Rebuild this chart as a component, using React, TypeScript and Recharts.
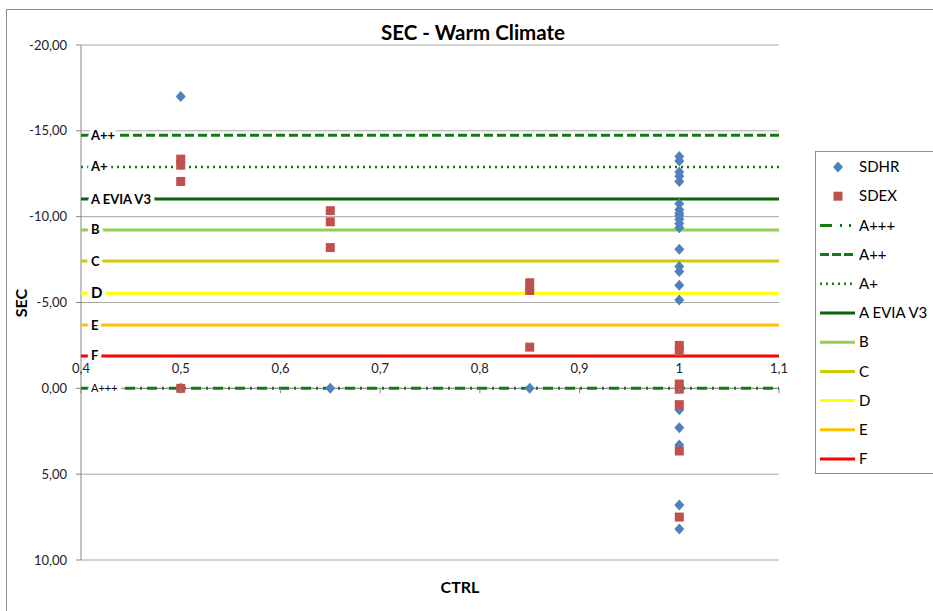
import React from "react";
import { ScatterChart, Scatter, XAxis, YAxis, CartesianGrid } from "recharts";

// SDHR points: CTRL value and SEC value
const sdhrCtrl = [0.5, 0.5, 0.65, 0.85, 0.85,
  1, 1, 1, 1, 1, 1, 1, 1, 1, 1, 1, 1, 1, 1, 1, 1, 1, 1, 1, 1, 1, 1, 1];
const sdhrSec = [-17.0, 0, 0, -5.75, 0,
  -13.5, -13.25, -12.6, -12.35, -12.05, -10.75, -10.4, -10.2, -10.05, -9.85, -9.6, -9.35,
  -8.1, -7.1, -6.8, -6.0, -5.15, 0, 1.25, 2.3, 3.3, 6.8, 8.2];

// SDEX points
const sdexCtrl = [0.5, 0.5, 0.5, 0.5, 0.65, 0.65, 0.65, 0.85, 0.85, 0.85, 1, 1, 1, 1, 1, 1, 1];
const sdexSec = [-13.35, -13.0, -12.05, 0, -10.35, -9.7, -8.2, -6.15, -5.7, -2.4,
  -2.5, -2.15, -0.25, 0.05, 0.95, 3.65, 7.5];

// class limits (horizontal lines)
const levelNames = ["A+++", "A++", "A+", "A EVIA V3", "B", "C", "D", "E", "F"];
const levelSec = [0, -14.75, -12.9, -11.03, -9.23, -7.42, -5.54, -3.69, -1.89];

const ctrlDomain = [0.4, 1.1];
const ctrlTicks = [0.4, 0.5, 0.6, 0.7, 0.8, 0.9, 1, 1.1];
const secDomain = [-20, 10];
const secTicks = [-20, -15, -10, -5, 0, 5, 10];

const W = 933;
const H = 611;
const PLOT_TOP = 45;
const PLOT_BOTTOM = 560;
const PLOT_LEFT = 81;
const PLOT_RIGHT = 779;
const X_AXIS_H = 30;
const ZERO_Y = PLOT_TOP + ((0 - secDomain[0]) / (secDomain[1] - secDomain[0])) * (PLOT_BOTTOM - PLOT_TOP);
const FONT = "Lato, 'Open Sans', sans-serif";
const AXIS_GRAY = "#868686";

const levelStyle: Record<string, { stroke: string; dash?: string; width: number; font: number; bold: boolean; legendDash?: string }> = {
  "A+++": { stroke: "#137a13", dash: "10 5 2 5", width: 3, font: 11, bold: false, legendDash: "12 8 2 7 2 40" },
  "A++": { stroke: "#137a13", dash: "9 4", width: 3, font: 13, bold: true, legendDash: "9 3" },
  "A+": { stroke: "#137a13", dash: "2 4", width: 2.5, font: 13, bold: true, legendDash: "2 4" },
  "A EVIA V3": { stroke: "#0b640b", width: 3, font: 13, bold: true },
  B: { stroke: "#92d050", width: 3, font: 13, bold: true },
  C: { stroke: "#cccc00", width: 3, font: 13, bold: true },
  D: { stroke: "#ffff00", width: 3, font: 15, bold: true },
  E: { stroke: "#ffc000", width: 3, font: 13, bold: true },
  F: { stroke: "#ff0000", width: 3, font: 13, bold: true },
};

const sdhr = sdhrCtrl.map((x, i) => ({ x, y: sdhrSec[i] }));
const sdex = sdexCtrl.map((x, i) => ({ x, y: sdexSec[i] }));
const levels = levelNames.map((name, i) => ({
  name,
  data: ctrlDomain.map((x) => ({ x, y: levelSec[i] })),
}));
const axisLineData = ctrlDomain.map((x) => ({ x, y: 0 }));

const fmtCtrl = (v: number) => String(v).replace(".", ",");
const fmtSec = (v: number) => v.toFixed(2).replace(".", ",");

const Diamond = (p: any) => (
  <polygon
    points={`${p.cx},${p.cy - 5.5} ${p.cx + 5},${p.cy} ${p.cx},${p.cy + 5.5} ${p.cx - 5},${p.cy}`}
    fill="#4f81bd"
  />
);
const Square = (p: any) => (
  <rect x={p.cx - 4.5} y={p.cy - 4.5} width={9} height={9} fill="#c0504d" />
);
const Nothing = () => <g />;

const levelLabel = (name: string) => (p: any) => {
  if (p.payload.x !== ctrlDomain[0]) return <g />;
  const st = levelStyle[name];
  return (
    <text
      x={p.cx + 10}
      y={p.cy}
      dy="0.35em"
      fontSize={st.font}
      fontWeight={st.bold ? 700 : 400}
      fontFamily={FONT}
      fill="#000"
      stroke="#fff"
      strokeWidth={8}
      paintOrder="stroke"
      strokeLinejoin="round"
    >
      {name}
    </text>
  );
};

// the category axis crosses the value axis at 0, so ticks are drawn there
const renderCtrlTick = (p: any) => (
  <g>
    <line x1={p.x} x2={p.x} y1={ZERO_Y} y2={ZERO_Y + 5} stroke={AXIS_GRAY} />
    <text x={p.x} y={ZERO_Y - 20} dy="0.35em" textAnchor="middle" fontSize={13} fontFamily={FONT} fill="#222">
      {fmtCtrl(p.payload.value)}
    </text>
  </g>
);

const legendRows = ["SDHR", "SDEX", ...levelNames];

export default function App() {
  return (
    <div style={{ position: "absolute", left: 0, top: 0, width: W, height: H, overflow: "hidden", background: "#fff", fontFamily: FONT }}>
      <div style={{ position: "absolute", left: 6, top: 9, width: 980, height: 700, border: "1px solid #8c8c8c" }} />
      <div style={{ position: "absolute", left: 0, top: 0 }}>
        <ScatterChart
          width={W}
          height={H}
          margin={{ top: PLOT_TOP, right: W - PLOT_RIGHT, bottom: H - PLOT_BOTTOM - X_AXIS_H, left: 0 }}
        >
          <CartesianGrid horizontal vertical={false} stroke="#a6a6a6" />
          <XAxis
            type="number"
            dataKey="x"
            domain={ctrlDomain}
            ticks={ctrlTicks}
            interval={0}
            height={X_AXIS_H}
            axisLine={false}
            tickLine={false}
            tick={renderCtrlTick}
            allowDataOverflow
          />
          <YAxis
            type="number"
            dataKey="y"
            domain={secDomain}
            ticks={secTicks}
            interval={0}
            reversed
            width={PLOT_LEFT}
            tickSize={5}
            tickMargin={9}
            tickFormatter={fmtSec}
            stroke={AXIS_GRAY}
            tick={{ fill: "#222", fontSize: 13, fontFamily: FONT }}
            allowDataOverflow
          />
          <Scatter
            data={axisLineData}
            fill={AXIS_GRAY}
            line={{ stroke: AXIS_GRAY, strokeWidth: 1 }}
            shape={Nothing}
            isAnimationActive={false}
          />
          {levels.map((lv) => {
            const st = levelStyle[lv.name];
            return (
              <Scatter
                key={lv.name}
                name={lv.name}
                data={lv.data}
                fill={st.stroke}
                line={{ stroke: st.stroke, strokeWidth: st.width, strokeDasharray: st.dash }}
                shape={levelLabel(lv.name)}
                isAnimationActive={false}
              />
            );
          })}
          <Scatter name="SDHR" data={sdhr} fill="#4f81bd" shape={Diamond} isAnimationActive={false} />
          <Scatter name="SDEX" data={sdex} fill="#c0504d" shape={Square} isAnimationActive={false} />
        </ScatterChart>
      </div>
      <svg width={W} height={H} style={{ position: "absolute", left: 0, top: 0, pointerEvents: "none" }}>
        <text x={473} y={33} dy="0.35em" textAnchor="middle" fontSize={20.5} fontWeight={700} fontFamily={FONT} fill="#000">
          SEC - Warm Climate
        </text>
        <text x={460} y={587} dy="0.35em" textAnchor="middle" fontSize={16} fontWeight={700} fontFamily={FONT} fill="#000">
          CTRL
        </text>
        <text
          x={21}
          y={303}
          dy="0.35em"
          textAnchor="middle"
          fontSize={16}
          fontWeight={700}
          fontFamily={FONT}
          fill="#000"
          transform="rotate(-90 21 303)"
        >
          SEC
        </text>
        <rect x={815.5} y={151.5} width={140} height={322} fill="#fff" stroke="#8c8c8c" />
        {legendRows.map((name, i) => {
          const y = 167 + i * 29.2;
          let sym: React.ReactNode;
          if (name === "SDHR") {
            sym = <polygon points={`838,${y - 5.5} 843,${y} 838,${y + 5.5} 833,${y}`} fill="#4f81bd" />;
          } else if (name === "SDEX") {
            sym = <rect x={833.5} y={y - 4.5} width={9} height={9} fill="#c0504d" />;
          } else {
            const st = levelStyle[name];
            sym = (
              <line
                x1={820}
                x2={855}
                y1={y}
                y2={y}
                stroke={st.stroke}
                strokeWidth={st.width}
                strokeDasharray={st.legendDash}
              />
            );
          }
          return (
            <g key={name}>
              {sym}
              <text x={859} y={y} dy="0.35em" fontSize={15} fontFamily={FONT} fill="#000">
                {name}
              </text>
            </g>
          );
        })}
      </svg>
    </div>
  );
}
